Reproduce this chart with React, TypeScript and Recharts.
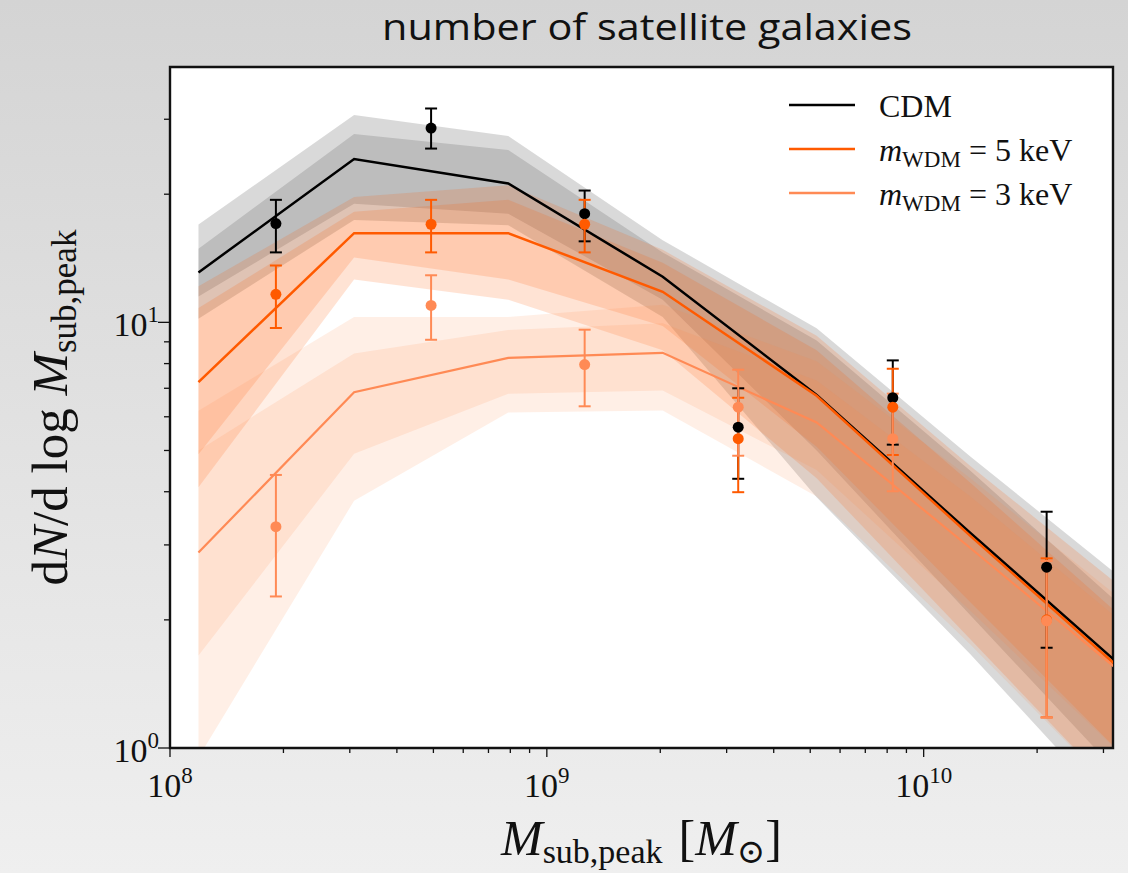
import React from "react";
import {
  ComposedChart,
  Area,
  Line,
  Scatter,
  ErrorBar,
  XAxis,
  YAxis,
  CartesianGrid,
  ReferenceArea,
  Label,
} from "recharts";

const SERIF = "'Liberation Serif', 'DejaVu Serif', serif";

// model curves are evaluated at these peak masses (M_sun)
const MASS_BINS = [1.19e8, 3.08e8, 7.9e8, 2.03e9, 5.2e9, 1.33e10, 3.42e10];
// sample points sit between the model nodes
const MASS_POINTS = [1.91e8, 4.93e8, 1.26e9, 3.22e9, 8.28e9, 2.12e10];

// CDM
const CDM_MEDIAN = [13.1, 24.2, 21.2, 12.8, 6.75, 3.2, 1.53];
const CDM_INNER_LO = [11.5, 19.0, 18.0, 11.3, 5.0, 2.05, 0.84];
const CDM_INNER_HI = [14.9, 27.7, 25.4, 14.6, 9.07, 4.48, 2.12];
const CDM_OUTER_LO = [10.2, 17.4, 16.9, 10.3, 3.88, 1.66, 0.67];
const CDM_OUTER_HI = [16.98, 30.7, 27.4, 15.6, 9.68, 4.84, 2.47];

// m_WDM = 5 keV
const WDM5_MEDIAN = [7.24, 16.2, 16.2, 11.8, 6.72, 3.15, 1.5];
const WDM5_INNER_LO = [4.9, 14.2, 12.6, 9.8, 5.1, 2.2, 0.95];
const WDM5_INNER_HI = [10.8, 18.2, 19.4, 13.8, 8.6, 4.2, 2.0];
const WDM5_OUTER_LO = [4.1, 12.6, 11.3, 8.6, 4.3, 1.8, 0.75];
const WDM5_OUTER_HI = [12.15, 19.7, 21.0, 14.8, 9.3, 4.6, 2.35];

// m_WDM = 3 keV
const WDM3_MEDIAN = [2.88, 6.85, 8.25, 8.48, 5.82, 2.95, 1.48];
const WDM3_INNER_LO = [1.65, 4.91, 6.8, 6.92, 4.5, 2.1, 0.95];
const WDM3_INNER_HI = [5.0, 8.45, 9.6, 9.95, 7.3, 3.9, 1.95];
const WDM3_OUTER_LO = [0.95, 3.81, 6.14, 6.21, 3.9, 1.75, 0.75];
const WDM3_OUTER_HI = [6.2, 10.3, 10.3, 11.0, 8.1, 4.3, 2.2];

// points with error bars
const CDM_PTS = [17.06, 28.6, 18.0, 5.67, 6.65, 2.66];
const CDM_PTS_LO = [14.6, 25.6, 15.5, 4.29, 5.16, 1.72];
const CDM_PTS_HI = [19.4, 31.8, 20.4, 7.0, 8.14, 3.59];
const WDM5_PTS = [11.64, 17.0, 17.0, 5.33, 6.32, 2.0];
const WDM5_PTS_LO = [9.7, 14.6, 14.6, 3.99, 4.88, 1.18];
const WDM5_PTS_HI = [13.6, 19.4, 19.4, 6.65, 7.78, 2.79];
const WDM3_PTS = [3.31, 10.96, 7.96, 6.32, 5.33, 1.99];
const WDM3_PTS_LO = [2.27, 9.1, 6.35, 4.86, 4.01, 1.18];
const WDM3_PTS_HI = [4.38, 12.9, 9.61, 7.74, 6.8, 2.75];

// axes
const X_DOMAIN = [1e8, 3.18e10];
const Y_DOMAIN = [1, 39.8];
const X_MAJOR = [1e8, 1e9, 1e10];
const X_MAJOR_EXP = ["8", "9", "10"];
const X_MINOR = [
  2e8, 3e8, 4e8, 5e8, 6e8, 7e8, 8e8, 9e8,
  2e9, 3e9, 4e9, 5e9, 6e9, 7e9, 8e9, 9e9,
  2e10, 3e10,
];
const Y_MAJOR = [1, 10];
const Y_MAJOR_EXP = ["0", "1"];
const Y_MINOR = [2, 3, 4, 5, 6, 7, 8, 9, 20, 30];

const BLACK = "#000000";
const ORANGE = "#ff5a00";
const LIGHT_ORANGE = "#ff8a55";

const bandRows = (median: number[], iLo: number[], iHi: number[], oLo: number[], oHi: number[]) =>
  MASS_BINS.map((x, i) => ({
    x,
    y: median[i],
    inner: [iLo[i], iHi[i]],
    outer: [oLo[i], oHi[i]],
  }));

const pointRows = (y: number[], lo: number[], hi: number[]) =>
  MASS_POINTS.map((x, i) => ({ x, y: y[i], err: [y[i] - lo[i], hi[i] - y[i]] }));

const cdmBand = bandRows(CDM_MEDIAN, CDM_INNER_LO, CDM_INNER_HI, CDM_OUTER_LO, CDM_OUTER_HI);
const wdm5Band = bandRows(WDM5_MEDIAN, WDM5_INNER_LO, WDM5_INNER_HI, WDM5_OUTER_LO, WDM5_OUTER_HI);
const wdm3Band = bandRows(WDM3_MEDIAN, WDM3_INNER_LO, WDM3_INNER_HI, WDM3_OUTER_LO, WDM3_OUTER_HI);

const cdmPts = pointRows(CDM_PTS, CDM_PTS_LO, CDM_PTS_HI);
const wdm5Pts = pointRows(WDM5_PTS, WDM5_PTS_LO, WDM5_PTS_HI);
const wdm3Pts = pointRows(WDM3_PTS, WDM3_PTS_LO, WDM3_PTS_HI);

const XTick = (props: any) => {
  const { x, y, payload } = props;
  const idx = X_MAJOR.indexOf(payload.value);
  const major = idx >= 0;
  return (
    <g>
      <line x1={x} y1={y} x2={x} y2={y + (major ? 9 : 5)} stroke="#111" strokeWidth={1.3} />
      {major && (
        <text x={x} y={y + 49} textAnchor="middle" fontFamily={SERIF} fontSize={34} fill="#111">
          10
          <tspan dy={-14} fontSize={23}>
            {X_MAJOR_EXP[idx]}
          </tspan>
        </text>
      )}
    </g>
  );
};

const YTick = (props: any) => {
  const { x, y, payload } = props;
  const idx = Y_MAJOR.indexOf(payload.value);
  const major = idx >= 0;
  return (
    <g>
      <line x1={x} y1={y} x2={x - (major ? 12 : 6)} y2={y} stroke="#111" strokeWidth={1.3} />
      {major && (
        <text x={x - 11} y={y + 14} textAnchor="end" fontFamily={SERIF} fontSize={34} fill="#111">
          10
          <tspan dy={-14} fontSize={23}>
            {Y_MAJOR_EXP[idx]}
          </tspan>
        </text>
      )}
    </g>
  );
};

const XTitle = ({ viewBox }: any) => {
  const { x, y, width } = viewBox;
  return (
    <text x={x + width / 2} y={y + 107} textAnchor="middle" fontFamily={SERIF} fill="#111" fontSize={50}>
      <tspan fontStyle="italic">M</tspan>
      <tspan fontSize={34} dy={8}>sub,peak</tspan>
      <tspan dy={-8} dx={16}>[</tspan>
      <tspan fontStyle="italic">M</tspan>
      <tspan fontSize={34} dy={8}>⊙</tspan>
      <tspan dy={-8}>]</tspan>
    </text>
  );
};

const YTitle = ({ viewBox }: any) => {
  const { x, y, height } = viewBox;
  const cx = x - 3;
  const cy = y + height / 2;
  return (
    <text
      x={cx}
      y={cy}
      transform={`rotate(-90, ${cx}, ${cy})`}
      textAnchor="middle"
      fontFamily={SERIF}
      fill="#111"
      fontSize={51}
    >
      d<tspan fontStyle="italic">N</tspan>/d log <tspan fontStyle="italic">M</tspan>
      <tspan fontSize={35} dy={9}>sub,peak</tspan>
    </text>
  );
};

const dot = (color: string) => (p: any) => <circle cx={p.cx} cy={p.cy} r={5.5} fill={color} />;

const LEGEND = [
  { color: BLACK, main: "CDM", sub: "", rest: "" },
  { color: ORANGE, main: "m", sub: "WDM", rest: " = 5 keV" },
  { color: LIGHT_ORANGE, main: "m", sub: "WDM", rest: " = 3 keV" },
];

export default function App() {
  return (
    <div
      style={{
        position: "fixed",
        left: 0,
        top: 0,
        width: 1128,
        height: 873,
        background: "linear-gradient(to bottom, #d4d4d4 0%, #e3e3e3 55%, #efefef 100%)",
      }}
    >
      <ComposedChart
        width={1128}
        height={873}
        margin={{ top: 67, right: 15, bottom: 5, left: 70 }}
      >
        <CartesianGrid horizontal={false} vertical={false} fill="#ffffff" fillOpacity={1} />
        <XAxis
          type="number"
          dataKey="x"
          scale="log"
          domain={X_DOMAIN}
          allowDataOverflow
          ticks={[...X_MAJOR, ...X_MINOR]}
          interval={0}
          tick={<XTick />}
          tickLine={false}
          axisLine={false}
          tickSize={0}
          tickMargin={0}
          height={120}
        >
          <Label content={<XTitle />} />
        </XAxis>
        <YAxis
          type="number"
          scale="log"
          domain={Y_DOMAIN}
          allowDataOverflow
          ticks={[...Y_MAJOR, ...Y_MINOR]}
          interval={0}
          tick={<YTick />}
          tickLine={false}
          axisLine={false}
          tickSize={0}
          tickMargin={0}
          width={100}
        >
          <Label content={<YTitle />} />
        </YAxis>

        {/* scatter bands: outer then inner, per model */}
        <Area data={cdmBand} dataKey="outer" type="linear" stroke="none" fill={BLACK} fillOpacity={0.15} isAnimationActive={false} activeDot={false} />
        <Area data={cdmBand} dataKey="inner" type="linear" stroke="none" fill={BLACK} fillOpacity={0.13} isAnimationActive={false} activeDot={false} />
        <Area data={wdm5Band} dataKey="outer" type="linear" stroke="none" fill={ORANGE} fillOpacity={0.17} isAnimationActive={false} activeDot={false} />
        <Area data={wdm5Band} dataKey="inner" type="linear" stroke="none" fill={ORANGE} fillOpacity={0.17} isAnimationActive={false} activeDot={false} />
        <Area data={wdm3Band} dataKey="outer" type="linear" stroke="none" fill="#ff8040" fillOpacity={0.13} isAnimationActive={false} activeDot={false} />
        <Area data={wdm3Band} dataKey="inner" type="linear" stroke="none" fill="#ff8040" fillOpacity={0.13} isAnimationActive={false} activeDot={false} />

        {/* medians */}
        <Line data={cdmBand} dataKey="y" type="linear" stroke={BLACK} strokeWidth={2.5} dot={false} activeDot={false} isAnimationActive={false} />
        <Line data={wdm5Band} dataKey="y" type="linear" stroke={ORANGE} strokeWidth={2.5} dot={false} activeDot={false} isAnimationActive={false} />
        <Line data={wdm3Band} dataKey="y" type="linear" stroke={LIGHT_ORANGE} strokeWidth={2.2} dot={false} activeDot={false} isAnimationActive={false} />

        {/* points with asymmetric error bars */}
        <Scatter data={cdmPts} dataKey="y" shape={dot(BLACK)} isAnimationActive={false}>
          <ErrorBar dataKey="err" direction="y" width={6} stroke={BLACK} strokeWidth={2} isAnimationActive={false} />
        </Scatter>
        <Scatter data={wdm5Pts} dataKey="y" shape={dot(ORANGE)} isAnimationActive={false}>
          <ErrorBar dataKey="err" direction="y" width={6} stroke={ORANGE} strokeWidth={2} isAnimationActive={false} />
        </Scatter>
        <Scatter data={wdm3Pts} dataKey="y" shape={dot(LIGHT_ORANGE)} isAnimationActive={false}>
          <ErrorBar dataKey="err" direction="y" width={6} stroke={LIGHT_ORANGE} strokeWidth={2} isAnimationActive={false} />
        </Scatter>

        {/* frame */}
        <ReferenceArea x1={X_DOMAIN[0]} x2={X_DOMAIN[1]} y1={Y_DOMAIN[0]} y2={Y_DOMAIN[1]} fill="none" stroke="#111" strokeWidth={2.4} />
      </ComposedChart>

      <svg width={1128} height={873} style={{ position: "absolute", left: 0, top: 0, pointerEvents: "none" }}>
        <text x={647} y={40} textAnchor="middle" fontFamily="'Open Sans', 'Noto Sans', sans-serif" fontSize={37} fill="#111" textLength={530} lengthAdjust="spacingAndGlyphs">
          number of satellite galaxies
        </text>
        {LEGEND.map((item, i) => (
          <g key={i}>
            <line x1={789} x2={855} y1={105 + i * 44} y2={105 + i * 44} stroke={item.color} strokeWidth={2.5} />
            <text x={879} y={117 + i * 44} fontFamily={SERIF} fontSize={32} fill="#111">
              {item.sub ? (
                <>
                  <tspan fontStyle="italic">{item.main}</tspan>
                  <tspan fontSize={23} dy={6}>{item.sub}</tspan>
                  <tspan dy={-6}>{item.rest}</tspan>
                </>
              ) : (
                item.main
              )}
            </text>
          </g>
        ))}
      </svg>
    </div>
  );
}
